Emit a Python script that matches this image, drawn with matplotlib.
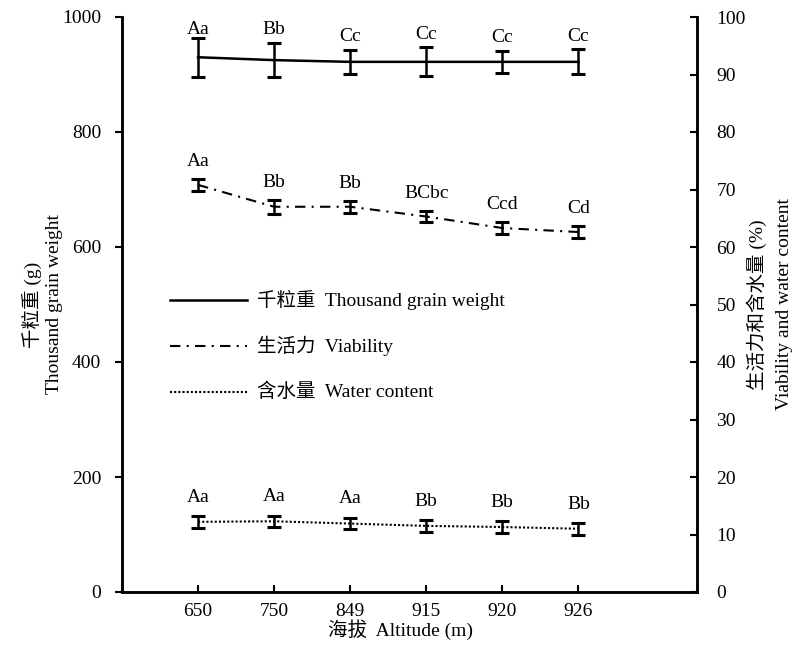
import matplotlib
matplotlib.use("Agg")
import matplotlib.pyplot as plt
import numpy as np

plt.rcParams['font.family'] = ['Liberation Serif', 'Noto Sans CJK SC']
plt.rcParams['axes.unicode_minus'] = False

altitudes = ['650', '750', '849', '915', '920', '926']
grain_weight = [930, 925, 922, 922, 922, 922]
grain_err = [34, 30, 21, 25, 19, 22]
grain_labels = ['Aa', 'Bb', 'Cc', 'Cc', 'Cc', 'Cc']
viability = [70.8, 67.0, 67.0, 65.3, 63.3, 62.6]
viability_err = [1.0, 1.2, 1.0, 1.0, 1.0, 1.0]
viability_labels = ['Aa', 'Bb', 'Bb', 'BCbc', 'Ccd', 'Cd']
water = [12.2, 12.3, 11.9, 11.5, 11.3, 11.0]
water_err = [1.0, 1.0, 1.0, 1.0, 1.0, 1.0]
water_labels = ['Aa', 'Aa', 'Aa', 'Bb', 'Bb', 'Bb']

x = np.arange(1, len(altitudes) + 1)

fig = plt.figure(figsize=(7.95, 6.47), dpi=100)
ax = fig.add_axes([122/795, 1 - 592/647, (697-122)/795, (592-17)/647])
ax2 = ax.twinx()

fs = 14
lw_sp = 1.8
cap_kw = dict(capsize=5, elinewidth=1.8, capthick=2.2, ecolor='black')

ax.errorbar(x, grain_weight, yerr=grain_err, color='black', lw=1.8, **cap_kw)
for xi, v, e, lab in zip(x, grain_weight, grain_err, grain_labels):
    off = 0 if lab == 'Aa' else 8
    ax.text(xi, v + e + off, lab, ha='center', va='bottom', fontsize=fs)

ax2.errorbar(x, viability, yerr=viability_err, color='black', lw=1.5,
             linestyle=(0, (5, 3, 1, 3)), **cap_kw)
for xi, v, e, lab in zip(x, viability, viability_err, viability_labels):
    ax2.text(xi, v + e + 1.6, lab, ha='center', va='bottom', fontsize=fs)

ax2.errorbar(x, water, yerr=water_err, color='black', lw=1.5,
             linestyle=(0, (1, 1)), **cap_kw)
for xi, v, e, lab in zip(x, water, water_err, water_labels):
    ax2.text(xi, v + e + 1.8, lab, ha='center', va='bottom', fontsize=fs)

ax.set_xlim(0, 7.56)
ax.set_ylim(0, 1000)
ax2.set_ylim(0, 100)
ax.set_xticks(x)
ax.set_xticklabels(altitudes, fontsize=fs)
ax.set_yticks(np.arange(0, 1001, 200))
ax.tick_params(axis='y', labelsize=fs, direction='out', length=5, width=1.5, pad=10)
ax.tick_params(axis='x', labelsize=fs, direction='in', length=5, width=1.5, pad=8)
ax2.set_yticks(np.arange(0, 101, 10))
ax2.tick_params(axis='y', labelsize=fs, direction='in', length=5, width=1.5, pad=14)

for a in (ax, ax2):
    a.spines['top'].set_visible(False)
    for s in ('left', 'bottom', 'right'):
        a.spines[s].set_linewidth(lw_sp)

ax.set_ylabel('千粒重 (g)\nThousand grain weight', fontsize=fs, linespacing=1.2)
ax.yaxis.set_label_coords(-59/575, 0.5)
ax2.set_ylabel('生活力和含水量 (%)\nViability and water content', fontsize=fs,
               linespacing=1.75, rotation=90)
ax2.yaxis.set_label_coords(1 + 49/575, 0.5)
ax.set_xlabel('海拔  Altitude (m)', fontsize=fs)
ax.xaxis.set_label_coords(0.484, -27/575)

# legend drawn manually in axes coordinates
leg_items = [('千粒重  Thousand grain weight', '-', 1.8),
             ('生活力  Viability', (0, (5, 3, 1, 3)), 1.5),
             ('含水量  Water content', (0, (1, 1)), 1.5)]
leg_y = [0.508, 0.428, 0.348]
for (lab, ls, lw), yy in zip(leg_items, leg_y):
    ax.plot([0.083, 0.218], [yy, yy], transform=ax.transAxes, color='black',
            linestyle=ls, lw=lw, clip_on=False)
    ax.text(0.235, yy, lab, transform=ax.transAxes, va='center', ha='left', fontsize=fs)

fig.savefig('out.png', dpi=100)
